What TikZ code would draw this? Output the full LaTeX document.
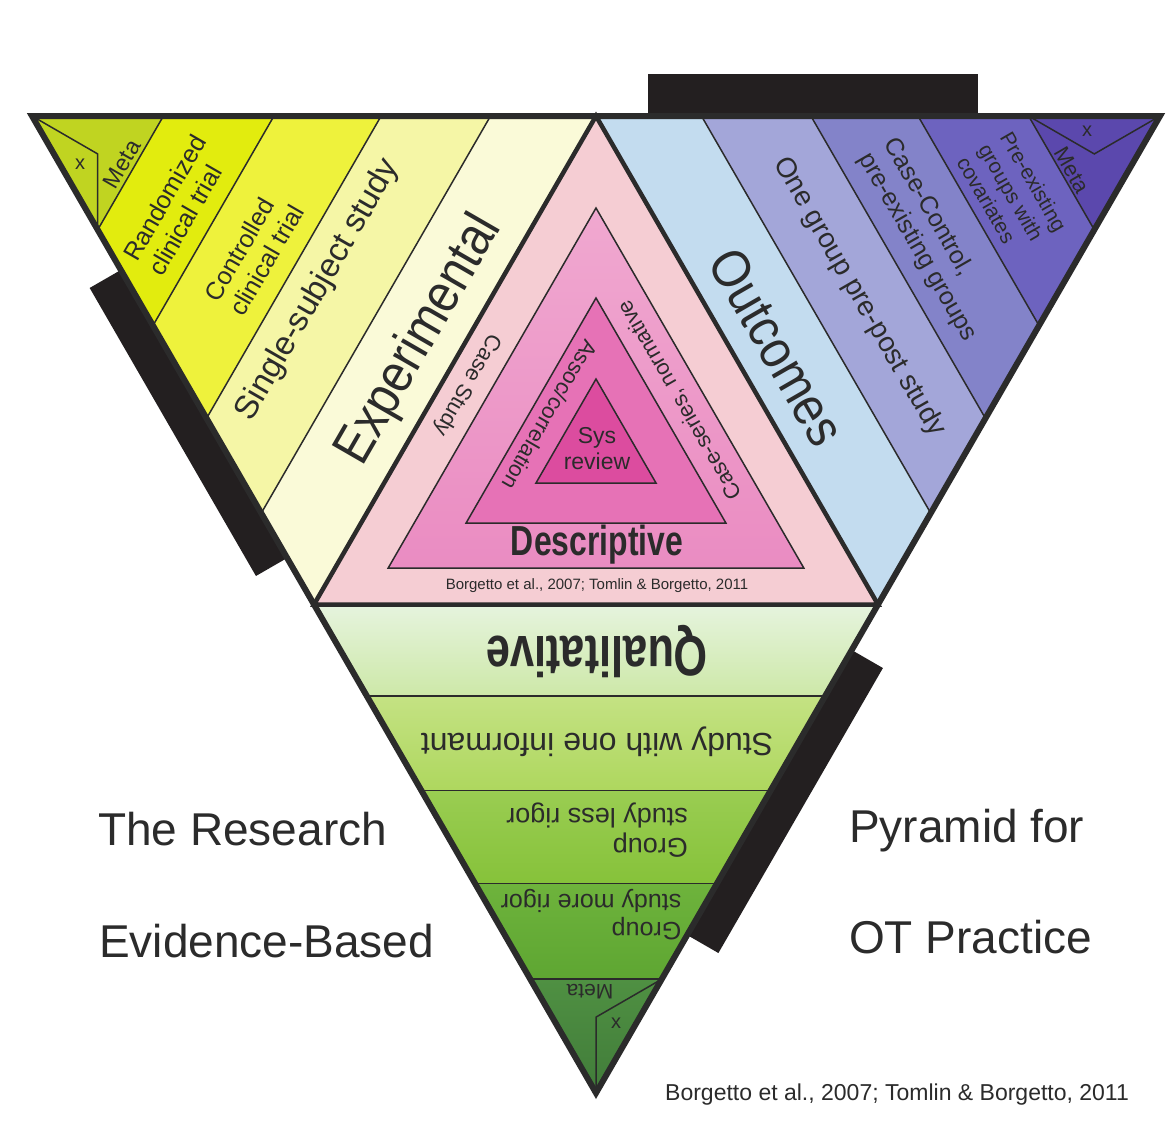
\documentclass[tikz,border=0pt]{standalone}
\usepackage{fontspec}
\setmainfont{Liberation Sans}
\usepackage{graphicx}
\usetikzlibrary{calc}
\definecolor{txt}{HTML}{2B2B2B}
\definecolor{barc}{HTML}{231F20}
% left (experimental)
\definecolor{cExp}{HTML}{FAFAD8}
\definecolor{cSingle}{HTML}{F5F6A6}
\definecolor{cCtrl}{HTML}{EEF23C}
\definecolor{cRand}{HTML}{E2EC0E}
\definecolor{cMetaL}{HTML}{C0D421}
% right (outcomes)
\definecolor{cOut}{HTML}{C3DCEF}
\definecolor{cOne}{HTML}{A3A6D9}
\definecolor{cCase}{HTML}{8383C9}
\definecolor{cPre}{HTML}{6D63BF}
\definecolor{cMetaR}{HTML}{5B48AD}
% bottom (qualitative)
\definecolor{cQualT}{HTML}{E6F4DE}
\definecolor{cQualB}{HTML}{CDE8A8}
\definecolor{cStudyT}{HTML}{C4E283}
\definecolor{cStudyB}{HTML}{AED75E}
\definecolor{cLessT}{HTML}{9ACD52}
\definecolor{cLessB}{HTML}{86C23A}
\definecolor{cMoreT}{HTML}{6EB33C}
\definecolor{cMoreB}{HTML}{5EA632}
\definecolor{cMetaBT}{HTML}{4F9042}
\definecolor{cMetaBB}{HTML}{417C3A}
% centre (descriptive)
\definecolor{cDesc}{HTML}{F5CDD3}
\definecolor{cLevAT}{HTML}{F0A8D0}
\definecolor{cLevAB}{HTML}{EA8CC2}
\definecolor{cLevB}{HTML}{E672B6}
\definecolor{cLevC}{HTML}{DC4C9F}
\newcommand{\fsz}[2]{\fontsize{#1}{#2}\selectfont}
\newcommand{\cbf}[3]{\scalebox{0.76}[1]{\fontsize{#1}{#2}\selectfont\bfseries #3}}
\newcommand{\cnr}[3]{\scalebox{0.88}[1]{\fontsize{#1}{#2}\selectfont #3}}
\tikzset{
  lbl/.style={text=txt, inner sep=0pt, align=center},
  bandline/.style={draw=txt, line width=1.5pt},
  outline/.style={draw=txt, line width=6pt, line join=miter},
  midline/.style={draw=txt, line width=4.5pt, line join=miter},
  blackbar/.style={fill=barc},
}
\begin{document}
\begin{tikzpicture}[x=1pt,y=-1pt]
\useasboundingbox (0,0) rectangle (1176,1143);
\fill[white] (0,0) rectangle (1176,1143);
% main vertices
\coordinate (TL) at (32,116);
\coordinate (TR) at (1160,116);
\coordinate (Bv) at (596,1093);
\coordinate (Mt) at ($(TL)!0.5!(TR)$);
\coordinate (Ml) at ($(TL)!0.5!(Bv)$);
\coordinate (Mr) at ($(TR)!0.5!(Bv)$);
% band division points
\foreach \i/\f in {1/0.187,2/0.381,3/0.571,4/0.767}{
  \coordinate (Lt\i) at ($(Mt)!\f!(TL)$);
  \coordinate (Ll\i) at ($(Ml)!\f!(TL)$);
  \coordinate (Rt\i) at ($(Mt)!\f!(TR)$);
  \coordinate (Rr\i) at ($(Mr)!\f!(TR)$);
  \coordinate (Bl\i) at ($(Ml)!\f!(Bv)$);
  \coordinate (Br\i) at ($(Mr)!\f!(Bv)$);
}
\coordinate (GL) at ($0.3333*(TL)+0.3333*(Lt4)+0.3334*(Ll4)$);
\coordinate (GR) at ($0.3333*(TR)+0.3333*(Rt4)+0.3334*(Rr4)$);
\coordinate (GB) at ($0.3333*(Bv)+0.3333*(Bl4)+0.3334*(Br4)$);
% black bars
\fill[blackbar] (648,74) rectangle (978,120);
\coordinate (lb1) at ($(TL)!0.1576!(Bv)$);
\coordinate (lb2) at ($(TL)!0.4524!(Bv)$);
\fill[blackbar] (lb1) -- (lb2) -- ($(lb2)+(-31.2,18)$) -- ($(lb1)+(-31.2,18)$) -- cycle;
\coordinate (rb1) at ($(TR)!0.5466!(Bv)$);
\coordinate (rb2) at ($(TR)!0.8383!(Bv)$);
\fill[blackbar] (rb1) -- ($(rb1)+(31.2,18)$) -- ($(rb2)+(31.2,18)$) -- (rb2) -- cycle;
% left bands
\fill[cExp] (Mt) -- (Lt1) -- (Ll1) -- (Ml) -- cycle;
\fill[cSingle] (Lt1) -- (Lt2) -- (Ll2) -- (Ll1) -- cycle;
\fill[cCtrl] (Lt2) -- (Lt3) -- (Ll3) -- (Ll2) -- cycle;
\fill[cRand] (Lt3) -- (Lt4) -- (Ll4) -- (Ll3) -- cycle;
\fill[cMetaL] (Lt4) -- (TL) -- (Ll4) -- cycle;
% right bands
\fill[cOut] (Mt) -- (Rt1) -- (Rr1) -- (Mr) -- cycle;
\fill[cOne] (Rt1) -- (Rt2) -- (Rr2) -- (Rr1) -- cycle;
\fill[cCase] (Rt2) -- (Rt3) -- (Rr3) -- (Rr2) -- cycle;
\fill[cPre] (Rt3) -- (Rt4) -- (Rr4) -- (Rr3) -- cycle;
\fill[cMetaR] (Rt4) -- (TR) -- (Rr4) -- cycle;
% bottom bands
\shade[top color=cQualT, bottom color=cQualB] (Ml) -- (Mr) -- (Br1) -- (Bl1) -- cycle;
\shade[top color=cStudyT, bottom color=cStudyB] (Bl1) -- (Br1) -- (Br2) -- (Bl2) -- cycle;
\shade[top color=cLessT, bottom color=cLessB] (Bl2) -- (Br2) -- (Br3) -- (Bl3) -- cycle;
\shade[top color=cMoreT, bottom color=cMoreB] (Bl3) -- (Br3) -- (Br4) -- (Bl4) -- cycle;
\shade[top color=cMetaBT, bottom color=cMetaBB] (Bl4) -- (Br4) -- (Bv) -- cycle;
% centre
\fill[cDesc] (Mt) -- (Ml) -- (Mr) -- cycle;
\shade[top color=cLevAT, bottom color=cLevAB] (596,208) -- (388.2,568) -- (803.8,568) -- cycle;
\draw[bandline] (596,208) -- (388.2,568) -- (803.8,568) -- cycle;
\filldraw[cLevB, bandline] (596,298) -- (466.1,523) -- (725.9,523) -- cycle;
\filldraw[cLevC, bandline] (596,379) -- (536,483) -- (656,483) -- cycle;
% band lines
\foreach \i in {1,2,3,4}{
  \draw[bandline] (Lt\i) -- (Ll\i);
  \draw[bandline] (Rt\i) -- (Rr\i);
  \draw[bandline] (Bl\i) -- (Br\i);
}
\draw[bandline] (TL) -- (GL) -- (Ll4);
\draw[bandline] (Rt4) -- (GR) -- (TR);
\draw[bandline] (Br4) -- (GB) -- (Bv);
% thick outlines
\draw[midline] (Mt) -- (Ml) -- (Mr) -- cycle;
\draw[outline] (TL) -- (TR) -- (Bv) -- cycle;
% ---- left texts
\node[lbl, rotate=60, font=\fsz{23}{26}] (metaL) at (122,164) {Meta};
\node[lbl, font=\fsz{20}{22}] (xL) at (80,164) {x};
\node[lbl, rotate=60, align=left, font=\fsz{25}{29}] (rand) at (177,205) {Randomized\\clinical trial};
\node[lbl, rotate=60, align=left, font=\fsz{25}{29}] (ctrl) at (254,253) {Controlled\\clinical trial};
\node[lbl, rotate=60, font=\fsz{33}{36}] (single) at (318,290) {Single-subject study};
\node[lbl, rotate=60] (exper) at (420,340) {\cnr{54}{58}{Experimental}};
% ---- right texts
\node[lbl, rotate=-60] (outc) at (777,347) {\cnr{54}{58}{Outcomes}};
\node[lbl, rotate=-60, font=\fsz{28}{32}] (onegr) at (859,297) {One group pre-post study};
\node[lbl, rotate=-60, align=left, font=\fsz{25}{29}] (casec) at (930,240) {Case-Control,\\pre-existing groups};
\node[lbl, rotate=-60, align=left, font=\fsz{21}{25}] (preex) at (1012,194) {Pre-existing\\groups with\\covariates};
\node[lbl, rotate=-60, font=\fsz{22}{25}] (metaR) at (1072,170) {Meta};
\node[lbl, font=\fsz{20}{22}] (xR) at (1087,131) {x};
% ---- bottom texts
\node[lbl, rotate=180] (qual) at (597,652) {\cbf{57}{60}{Qualitative}};
\node[lbl, rotate=180, font=\fsz{32}{36}] (study) at (597,742) {Study with one informant};
\node[lbl, rotate=180, align=left, font=\fsz{27}{30}] (less) at (597,830) {Group\\study less rigor};
\node[lbl, rotate=180, align=left, font=\fsz{25}{28}] (more) at (591,915) {Group\\study more rigor};
\node[lbl, rotate=180, font=\fsz{21}{24}] (metaB) at (590,992) {Meta};
\node[lbl, font=\fsz{20}{22}] (xB) at (616,1023) {x};
% ---- centre texts
\node[lbl, rotate=-120, font=\fsz{22}{25}] (casest) at (467,385) {Case Study};
\node[lbl, rotate=-120, font=\fsz{22}{25}] (assoc) at (550,415) {Assoc/correlation};
\node[lbl, rotate=120, font=\fsz{22}{25}] (series) at (680,400) {Case-series, normative};
\node[lbl, font=\fsz{23}{26}] (sys) at (597,449) {Sys\\review};
\node[lbl] (desc) at (597,545) {\cbf{42}{46}{Descriptive}};
\node[lbl, font=\fsz{15}{17}] (cite1) at (597,586) {Borgetto et al., 2007; Tomlin \& Borgetto, 2011};
% ---- outside texts
\node[lbl, anchor=base west, font=\fsz{46}{52}] (t1) at (98,845) {The Research};
\node[lbl, anchor=base west, font=\fsz{46}{52}] (t2) at (99,957) {Evidence-Based};
\node[lbl, anchor=base west, font=\fsz{46}{52}] (t3) at (849,842) {Pyramid for};
\node[lbl, anchor=base west, font=\fsz{46}{52}] (t4) at (849,953) {OT Practice};
\node[lbl, anchor=base west, font=\fsz{23}{26}] (cite2) at (665,1100) {Borgetto et al., 2007; Tomlin \& Borgetto, 2011};
\end{tikzpicture}
\end{document}
